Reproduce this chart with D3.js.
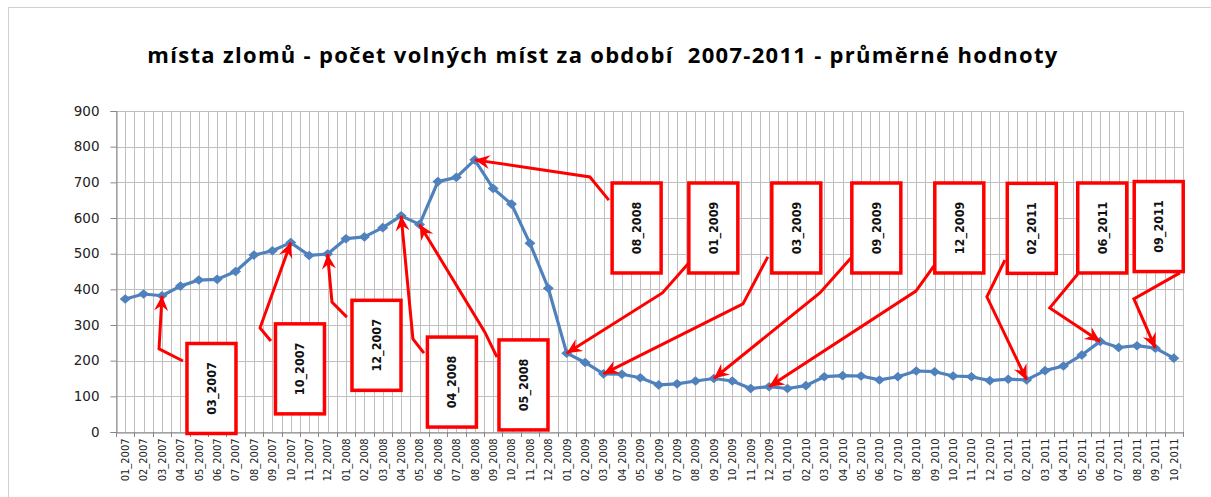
<!DOCTYPE html>
<html>
<head>
<meta charset="utf-8">
<script src="https://cdn.jsdelivr.net/npm/d3@7"></script>
<style>
  body { margin: 0; background: #fff; }
  svg { display: block; }
</style>
</head>
<body>
<svg id="chart" width="1211" height="497"></svg>
<script>
const title = "místa zlomů - počet volných míst za období  2007-2011 - průměrné hodnoty";

const years = [2007, 2008, 2009, 2010, 2011];
const months = ["01","02","03","04","05","06","07","08","09","10","11","12"];
// 01_2007 .. 10_2011
const categories = [];
years.forEach(y => months.forEach(m => {
  if (y < 2011 || +m <= 10) categories.push(m + "_" + y);
}));

const values = [
  373, 387, 382, 409, 426, 428, 450, 496, 508, 531, 495, 499,   // 2007
  542, 547, 573, 606, 582, 702, 714, 763, 683, 639, 529, 403,   // 2008
  221, 195, 163, 162, 152, 132, 135, 143, 150, 143, 122, 127,   // 2009
  122, 130, 155, 158, 157, 146, 155, 171, 169, 157, 155, 144,   // 2010
  148, 146, 172, 185, 216, 254, 237, 242, 235, 207              // 2011
];

const yTicks = [0, 100, 200, 300, 400, 500, 600, 700, 800, 900];

// callouts: target category, box centre / line start / elbow in (category index, value)
const notes = [
  { at: "03_2007", box: [4.69, 122], start: [3.14, 199], elbow: [1.84, 233] },
  { at: "10_2007", box: [9.5, 177],  start: [7.92, 255], elbow: [7.33, 292] },
  { at: "12_2007", box: [13.66, 243], start: [12.05, 322], elbow: [11.24, 364] },
  { at: "04_2008", box: [17.76, 140], start: [16.24, 221], elbow: [15.64, 261] },
  { at: "05_2008", box: [21.65, 132], start: [20.21, 210], elbow: [19.55, 280] },
  { at: "08_2008", box: [27.8, 572],  start: [26.29, 650], elbow: [25.26, 715] },
  { at: "01_2009", box: [31.97, 572], start: [30.83, 485], elbow: [29.2, 390] },
  { at: "03_2009", box: [36.48, 572], start: [34.93, 491], elbow: [33.58, 359] },
  { at: "09_2009", box: [40.83, 572], start: [39.45, 488], elbow: [37.76, 390] },
  { at: "12_2009", box: [45.34, 572], start: [44.23, 485], elbow: [42.98, 395] },
  { at: "02_2011", box: [49.28, 571], start: [47.82, 482], elbow: [46.84, 379] },
  { at: "06_2011", box: [53.11, 572], start: [51.78, 443], elbow: [50.26, 348] },
  { at: "09_2011", box: [56.18, 576], start: [57.33, 446], elbow: [54.83, 373] }
];

const svg = d3.select("#chart");
const W = 1211, H = 497;
const m = { left: 116, right: 1183, top: 111, bottom: 432 };
const red = "#ff0000", blue = "#4f81bd", grid = "#bfbfbf";

svg.append("rect")
  .attr("x", 8.5).attr("y", 7.5)
  .attr("width", W).attr("height", H)
  .attr("fill", "#fff").attr("stroke", "#d0d0d0");

svg.append("text")
  .attr("x", 603).attr("y", 63)
  .attr("text-anchor", "middle")
  .attr("font-family", "'Open Sans', 'Noto Sans', sans-serif")
  .attr("font-weight", "bold")
  .attr("font-size", 22)
  .attr("letter-spacing", 1.3)
  .attr("fill", "#000")
  .style("white-space", "pre")
  .text(title);

const x = d3.scaleBand().domain(categories).range([m.left, m.right]);
const xi = d3.scaleLinear().domain([-0.5, categories.length - 0.5]).range([m.left, m.right]);
const y = d3.scaleLinear().domain([0, 900]).range([m.bottom, m.top]);
const cx = d => x(d) + x.bandwidth() / 2;

// gridlines
const g = svg.append("g");
g.selectAll(".hg").data(yTicks).enter().append("line")
  .attr("x1", m.left).attr("x2", m.right)
  .attr("y1", d => Math.round(y(d)) + 0.5).attr("y2", d => Math.round(y(d)) + 0.5)
  .attr("stroke", grid);

const vlines = categories.map(c => x(c)).concat(categories.map(cx), [m.right]);
g.selectAll(".vg").data(vlines).enter().append("line")
  .attr("x1", d => Math.round(d) + 0.5).attr("x2", d => Math.round(d) + 0.5)
  .attr("y1", m.top).attr("y2", m.bottom)
  .attr("stroke", grid);

// axes
const yAxis = svg.append("g")
  .attr("transform", `translate(${m.left + 0.5},0)`)
  .call(d3.axisLeft(y).tickValues(yTicks).tickSize(6).tickPadding(11));
yAxis.select(".domain").attr("stroke", "#868686");
yAxis.selectAll(".tick line").attr("stroke", "#868686");
yAxis.selectAll("text")
  .attr("font-family", "'DejaVu Sans', Verdana, sans-serif")
  .attr("font-size", 13.5).attr("fill", "#222");

const xAxis = svg.append("g")
  .attr("transform", `translate(0,${m.bottom + 0.5})`)
  .call(d3.axisBottom(x).tickSize(0).tickPadding(0));
xAxis.select(".domain").attr("stroke", "#868686");
xAxis.selectAll("text")
  .attr("font-family", "'DejaVu Sans Condensed', 'DejaVu Sans', sans-serif")
  .attr("font-size", 11).attr("fill", "#222")
  .attr("text-anchor", "end")
  .attr("dy", "0.35em")
  .attr("transform", "translate(0,6) rotate(-90)");
svg.append("g").selectAll("line").data(categories.map(c => x(c)).concat([m.right])).enter()
  .append("line")
  .attr("x1", d => Math.round(d) + 0.5).attr("x2", d => Math.round(d) + 0.5)
  .attr("y1", m.bottom).attr("y2", m.bottom + 5)
  .attr("stroke", "#868686");

// series
const line = d3.line().x((d, i) => cx(categories[i])).y(d => y(d));
svg.append("path").datum(values)
  .attr("d", line)
  .attr("fill", "none").attr("stroke", blue).attr("stroke-width", 3.2)
  .attr("stroke-linejoin", "round");
svg.append("g").selectAll("path").data(values).enter().append("path")
  .attr("d", "M0,-4.8L5.5,0L0,4.8L-5.5,0Z")
  .attr("transform", (d, i) => `translate(${cx(categories[i])},${y(d)})`)
  .attr("fill", blue);

// callouts
svg.append("defs").append("marker")
  .attr("id", "arr").attr("viewBox", "-16 -8 18 16")
  .attr("refX", 0).attr("refY", 0)
  .attr("markerWidth", 18).attr("markerHeight", 16)
  .attr("markerUnits", "userSpaceOnUse")
  .attr("orient", "auto")
  .append("path").attr("d", "M0,0 L-15,-7 L-10,0 L-15,7 Z").attr("fill", red);

const boxW = 49, boxH = 90;
const ann = svg.append("g");
notes.forEach(n => {
  const i = categories.indexOf(n.at);
  const tx = cx(n.at), ty = y(values[i]);
  ann.append("polyline")
    .attr("points", [[xi(n.start[0]), y(n.start[1])], [xi(n.elbow[0]), y(n.elbow[1])], [tx, ty]].join(" "))
    .attr("fill", "none").attr("stroke", red).attr("stroke-width", 3)
    .attr("marker-end", "url(#arr)");
  const bx = xi(n.box[0]), by = y(n.box[1]);
  ann.append("rect")
    .attr("x", bx - boxW / 2).attr("y", by - boxH / 2)
    .attr("width", boxW).attr("height", boxH)
    .attr("fill", "#fff").attr("stroke", red).attr("stroke-width", 3.5);
  ann.append("text")
    .attr("transform", `translate(${bx},${by}) rotate(-90)`)
    .attr("text-anchor", "middle").attr("dy", "0.35em")
    .attr("font-family", "'DejaVu Sans Condensed', 'DejaVu Sans', sans-serif")
    .attr("font-weight", "bold").attr("font-size", 12.5)
    .attr("fill", "#111")
    .text(n.at);
});
</script>
</body>
</html>
